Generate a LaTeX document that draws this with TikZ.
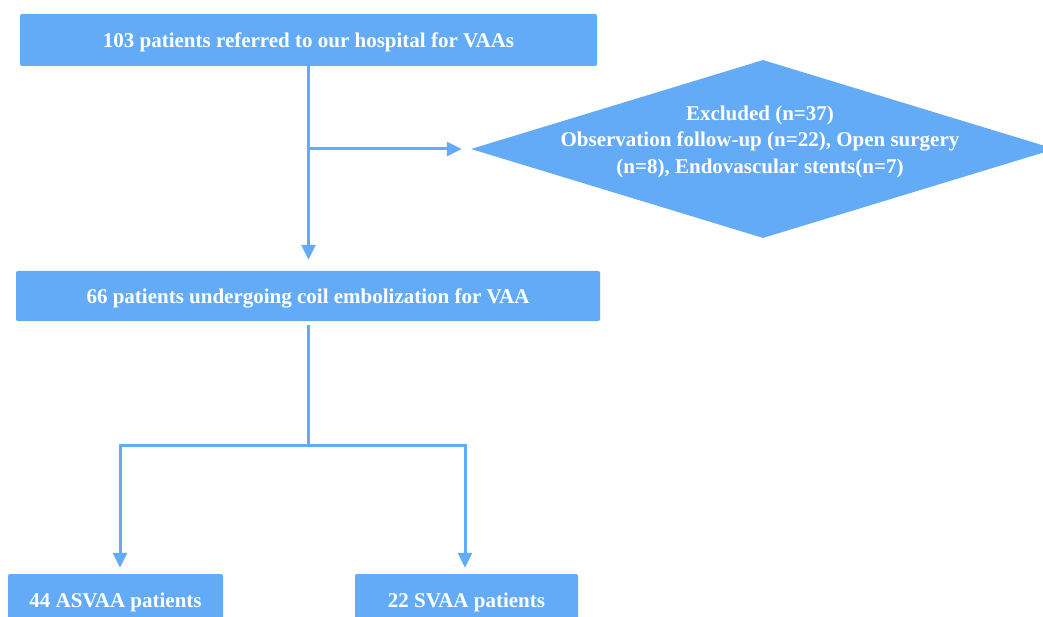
\documentclass[tikz,border=0pt]{standalone}
\usepackage{fontspec}
\setmainfont{Liberation Serif}
\usepackage{tikz}
\usepackage{xcolor}
\usetikzlibrary{positioning, arrows.meta, shapes.geometric}
\definecolor{flowblue}{RGB}{99, 171, 246}
\tikzset{
    flowtext/.style={text=white, font=\bfseries\fontsize{21}{26.5}\selectfont, align=center},
    flowbox/.style={rectangle, rounded corners=2pt, fill=flowblue, inner sep=0pt, flowtext,
        text height=16pt, text depth=0pt},
    exclnode/.style={diamond, fill=flowblue, inner sep=0pt, minimum width=584pt, minimum height=178pt},
    flowline/.style={draw=flowblue, line width=3pt},
    flowarrow/.style={flowline, -{Triangle[length=15pt, width=14pt]}}
}
\begin{document}
\begin{tikzpicture}[x=1pt, y=-1pt]
    \useasboundingbox (0,0) rectangle (1043,617);
    \node[flowbox, minimum width=577pt, minimum height=52pt] (refer) at (308.5,40)
        {103 patients referred to our hospital for VAAs};
    \node[exclnode] (excl) at (763,149) {};
    \node[flowtext] (excltext) at (760,141.5)
        {Excluded (n=37)\\Observation follow-up (n=22), Open surgery\\(n=8), Endovascular stents(n=7)};
    \node[flowbox, minimum width=584pt, minimum height=50pt] (coil) at (308,296)
        {66 patients undergoing coil embolization for VAA};
    \node[flowbox, minimum width=215pt, minimum height=50pt] (asvaa) at (115.5,599)
        {44 ASVAA patients};
    \node[flowbox, minimum width=223pt, minimum height=50pt] (svaa) at (466.5,599)
        {22 SVAA patients};
    \coordinate (split) at (309,445);
    % connectors
    \draw[flowarrow, shorten >=11pt] (refer.south) -- (refer.south |- coil.north);
    \draw[flowarrow, shorten >=9pt] (refer.south |- excl.west) -- (excl.west);
    \draw[flowline, shorten <=4pt] (coil.south) -- (coil.south |- split);
    \draw[flowarrow, shorten >=6pt] (split) -| ([xshift=4.5pt]asvaa.north);
    \draw[flowarrow, shorten >=6pt] (split) -| ([xshift=-1.5pt]svaa.north);
\end{tikzpicture}
\end{document}
